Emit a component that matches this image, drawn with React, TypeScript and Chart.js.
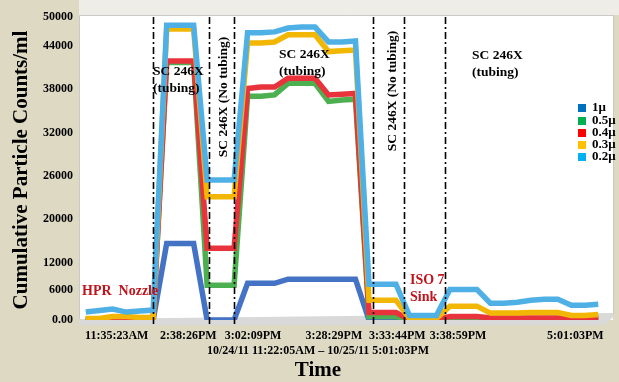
import React, { useEffect, useRef } from 'react';
import { Chart, registerables } from 'chart.js';

Chart.register(...registerables);

const FAM = '"Liberation Serif", "Times New Roman", serif';

// Category axis: 39 sample points (index 0..38); only some times are labelled
const timeLabels = ['11:35:23AM', '2:38:26PM', '3:02:09PM', '3:28:29PM', '3:33:44PM', '3:38:59PM', '5:01:03PM'];
const timeLabelPos = [2.3, 7.6, 12.4, 18.4, 23.1, 27.6, 36.3];

// Y axis tick labels (as printed) and their relative positions on the axis
const yTickValues = [0, 6000, 12000, 20000, 26000, 32000, 38000, 44000, 50000];
const yTickText = ['0.00', '6000', '12000', '20000', '26000', '32000', '38000', '44000', '50000'];
const yTickFracs = [0, 0.098, 0.19, 0.333, 0.476, 0.619, 0.762, 0.905, 1];

const seriesNames = ['1\u03bc', '0.5\u03bc', '0.4\u03bc', '0.3\u03bc', '0.2\u03bc'];
const lineColors = ['#4472C4', '#4CAF50', '#E8333C', '#F2B705', '#4FB0E6'];
const legendColors = ['#0070C0', '#00B050', '#FF0000', '#FFC000', '#00B0F0'];

const s1u = [0, 0, 0, 0, 0, 0, 15500, 15500, 15500, 0, 0, 0, 7500, 7500, 7500, 8400, 8400, 8400, 8400, 8400, 8400,
  0, 0, 0, 0, 0, 0, 0, 0, 0, 0, 0, 0, 0, 0, 0, 0, 0, 0];
const s05u = [100, 100, 100, 100, 100, 100, 41700, 41700, 41700, 7100, 7100, 7100, 37000, 37000, 37200, 38800, 38800, 38800, 36300, 36500, 36600,
  700, 700, 700, 50, 50, 50, 300, 300, 300, 150, 150, 150, 150, 150, 150, 150, 150, 150];
const s04u = [200, 200, 300, 300, 200, 200, 41900, 41900, 41900, 14600, 14600, 14600, 38100, 38300, 38300, 39500, 39500, 39500, 37200, 37300, 37400,
  1500, 1500, 1500, 100, 100, 100, 700, 700, 700, 400, 400, 400, 400, 400, 400, 500, 500, 500];
const s03u = [300, 300, 700, 700, 500, 500, 47500, 47500, 47500, 23100, 23100, 23100, 44600, 44600, 44800, 46300, 46300, 46300, 43200, 43300, 43400,
  4000, 4000, 4000, 300, 300, 300, 2800, 2800, 2800, 1400, 1400, 1400, 1500, 1500, 1500, 900, 900, 1100];
const s02u = [1600, 1900, 2200, 1600, 1800, 2000, 48300, 48300, 48300, 25400, 25400, 25400, 46700, 46700, 46900, 47700, 47900, 47900, 44800, 44800, 45000,
  7300, 7300, 7300, 900, 900, 900, 6200, 6200, 6200, 3400, 3400, 3600, 4000, 4200, 4200, 3000, 3000, 3200];

const seriesData = [s1u, s05u, s04u, s03u, s02u];

// Vertical dash-dot separators (in sample-index units)
const dividerPos = [5, 9.15, 11, 21.3, 23.6, 26.65];

function toAxis(v: number): number {
  for (let k = 1; k < yTickValues.length; k++) {
    if (v <= yTickValues[k]) {
      const t = (v - yTickValues[k - 1]) / (yTickValues[k] - yTickValues[k - 1]);
      return yTickFracs[k - 1] + t * (yTickFracs[k] - yTickFracs[k - 1]);
    }
  }
  return 1;
}

const decor = {
  id: 'decor',
  beforeDraw(chart: any) {
    const { ctx, chartArea: a, width, height } = chart;
    ctx.save();
    ctx.fillStyle = '#DDD9C3';
    ctx.fillRect(0, 0, width, height);
    // top strip
    ctx.fillStyle = '#EEEDE7';
    ctx.fillRect(a.left, 0, width - a.left, a.top - 2);
    // back wall (white)
    ctx.fillStyle = '#FFFFFF';
    ctx.fillRect(a.left, a.top - 2, a.right + 8 - a.left, a.bottom - a.top + 2);
    ctx.strokeStyle = '#C9C9C9';
    ctx.lineWidth = 1;
    ctx.beginPath();
    ctx.moveTo(a.left + 0.5, a.bottom);
    ctx.lineTo(a.left + 0.5, a.top - 1.5);
    ctx.lineTo(a.right + 8.5, a.top - 1.5);
    ctx.lineTo(a.right + 8.5, a.bottom - 6);
    ctx.stroke();
    // floor
    ctx.fillStyle = '#D9D9D9';
    ctx.beginPath();
    ctx.moveTo(a.left, a.bottom - 1);
    ctx.lineTo(a.right + 8, a.bottom - 7);
    ctx.lineTo(a.right + 8, a.bottom - 3);
    ctx.lineTo(a.right, a.bottom + 5);
    ctx.lineTo(a.left, a.bottom + 5);
    ctx.closePath();
    ctx.fill();
    ctx.restore();
  },
  afterDatasetsDraw(chart: any) {
    const { ctx, chartArea: a, scales } = chart;
    const xs = scales.x;
    ctx.save();
    // separators
    ctx.strokeStyle = '#000000';
    ctx.lineWidth = 1.6;
    ctx.setLineDash([7, 3, 2, 3]);
    dividerPos.forEach((p) => {
      const x = Math.round(xs.getPixelForValue(p)) + 0.5;
      ctx.beginPath();
      ctx.moveTo(x, a.top);
      ctx.lineTo(x, a.bottom + 5);
      ctx.stroke();
    });
    ctx.setLineDash([]);

    ctx.textBaseline = 'middle';
    ctx.textAlign = 'left';
    ctx.font = `bold 13.5px ${FAM}`;
    ctx.fillStyle = '#000000';
    const blocks: [number, number][] = [[153, 72], [279, 55], [472, 56]];
    blocks.forEach(([x, y]) => {
      ctx.fillText('SC 246X', x, y);
      ctx.fillText('(tubing)', x, y + 17);
    });
    const rot: [number, number][] = [[224, 97], [393, 91]];
    rot.forEach(([x, y]) => {
      ctx.save();
      ctx.translate(x, y);
      ctx.rotate(-Math.PI / 2);
      ctx.textAlign = 'center';
      ctx.fillText('SC 246X (No tubing)', 0, 0);
      ctx.restore();
    });
    ctx.fillStyle = '#C0141C';
    ctx.font = `bold 14px ${FAM}`;
    ctx.fillText('HPR  Nozzle', 82, 291);
    ctx.fillText('ISO 7', 410, 280);
    ctx.fillText('Sink', 410, 297);

    // legend
    const ly = [108, 121, 133, 145, 157];
    ctx.font = `bold 13px ${FAM}`;
    seriesNames.forEach((n, i) => {
      ctx.fillStyle = legendColors[i];
      ctx.fillRect(578, ly[i] - 4, 8, 8);
      ctx.fillStyle = '#000000';
      ctx.fillText(n, 592, ly[i]);
    });

    // axis titles
    ctx.fillStyle = '#000000';
    ctx.font = `bold 12px ${FAM}`;
    ctx.textAlign = 'center';
    ctx.fillText('10/24/11 11:22:05AM \u2013 10/25/11 5:01:03PM', 318, 351);
    ctx.font = `bold 21px ${FAM}`;
    ctx.fillText('Time', 318, 371);
    ctx.save();
    ctx.translate(22, 170);
    ctx.rotate(-Math.PI / 2);
    ctx.fillText('Cumulative Particle Counts/ml', 0, 0);
    ctx.restore();
    ctx.restore();
  },
};

export default function App() {
  const ref = useRef<HTMLCanvasElement | null>(null);
  useEffect(() => {
    document.body.style.margin = '0';
    const canvas = ref.current;
    if (!canvas) return;
    const chart = new Chart(canvas, {
      type: 'line',
      data: {
        datasets: seriesData.map((arr, k) => ({
          label: seriesNames[k],
          data: arr.map((v, i) => ({ x: i, y: toAxis(v) })),
          borderColor: lineColors[k],
          backgroundColor: lineColors[k],
          borderWidth: 5.5,
          pointRadius: 0,
          tension: 0,
          borderJoinStyle: 'miter',
          fill: false,
          order: seriesData.length - 1 - k,
        })),
      },
      options: {
        responsive: false,
        animation: false,
        devicePixelRatio: 1,
        layout: { padding: { top: 17, right: 14, left: 0, bottom: 0 } },
        plugins: { legend: { display: false }, tooltip: { enabled: false }, title: { display: false } },
        scales: {
          x: {
            type: 'linear',
            min: -0.5,
            max: 38.5,
            grid: { display: false, drawTicks: false },
            border: { display: false },
            afterBuildTicks: (s: any) => { s.ticks = timeLabelPos.map((v) => ({ value: v })); },
            afterFit: (s: any) => { s.height = 62; },
            ticks: {
              autoSkip: false,
              maxRotation: 0,
              padding: 9,
              color: '#000000',
              font: { family: FAM, size: 12, weight: 'bold' },
              callback: (_v: any, i: number) => timeLabels[i],
            },
          },
          y: {
            type: 'linear',
            min: 0,
            max: 1,
            grid: { display: false, drawTicks: false },
            border: { display: false },
            afterBuildTicks: (s: any) => { s.ticks = yTickFracs.map((v) => ({ value: v })); },
            afterFit: (s: any) => { s.width = 79; },
            ticks: {
              padding: 6,
              color: '#000000',
              font: { family: FAM, size: 12, weight: 'bold' },
              callback: (_v: any, i: number) => yTickText[i],
            },
          },
        },
      },
      plugins: [decor],
    } as any);
    return () => chart.destroy();
  }, []);
  return (
    <div style={{ width: 619, height: 382 }}>
      <canvas ref={ref} width={619} height={382} style={{ display: 'block', width: 619, height: 382 }} />
    </div>
  );
}
